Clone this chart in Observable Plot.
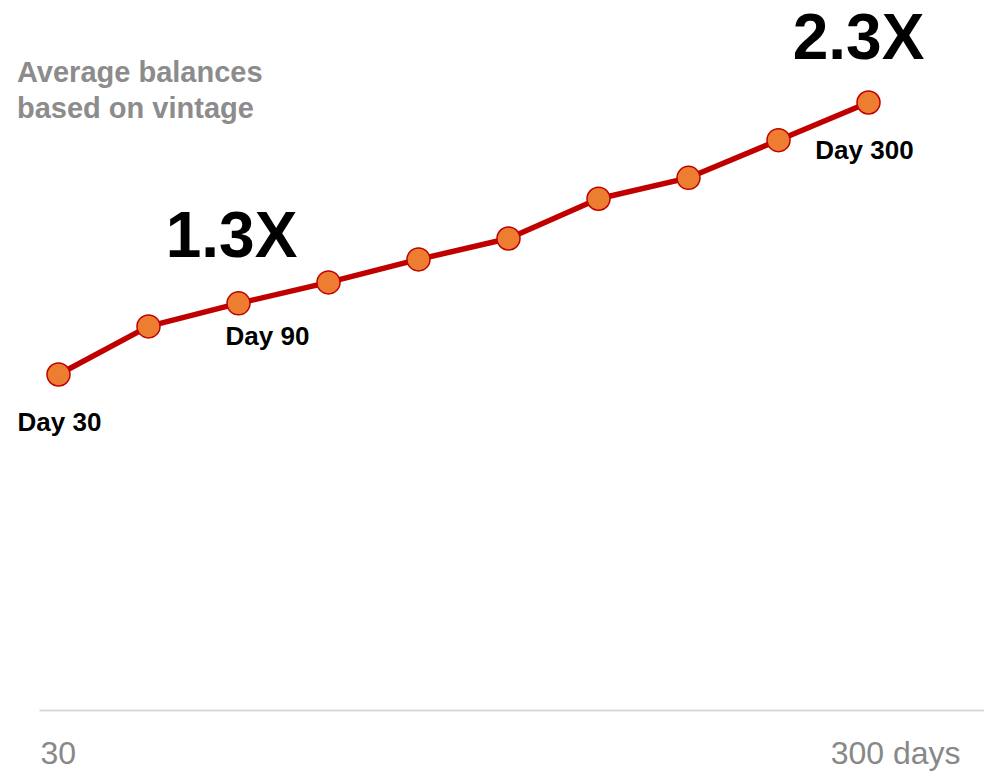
<!DOCTYPE html>
<html>
<head>
<meta charset="utf-8">
<script src="https://cdn.jsdelivr.net/npm/d3@7"></script>
<script src="https://cdn.jsdelivr.net/npm/@observablehq/plot@0.6"></script>
<style>
  html, body { margin: 0; padding: 0; background: #fff; }
  #wrap { position: relative; width: 984px; height: 771px; }
  #title { position: absolute; left: 17px; top: 54px; font-family: "Liberation Sans", Arial, sans-serif;
           font-weight: bold; font-size: 29px; line-height: 36px; color: #8c8c8c; }
  svg { display: block; }
</style>
</head>
<body>
<div id="wrap">
  <div id="title">Average balances<br>based on vintage</div>
</div>
<script>
const days = [30, 60, 90, 120, 150, 180, 210, 240, 270, 300];
const balance = [1.0, 1.23, 1.34, 1.44, 1.55, 1.65, 1.84, 1.94, 2.12, 2.30];
const dayLabels = ["Day 30", "Day 90", "Day 300"];
const dayLabelAt = [30, 90, 300];
const multiples = ["1.3X", "2.3X"];
const multipleAt = [90, 300];
const tickValues = [30, 300];
const tickLabels = ["30", "300 days"];

const data = days.map((d, i) => ({day: d, v: balance[i]}));
const valueAt = d => balance[days.indexOf(d)];
const font = "Liberation Sans, Arial, sans-serif";

const chart = Plot.plot({
  width: 984,
  height: 771,
  marginLeft: 40,
  marginRight: 0,
  marginTop: 0,
  marginBottom: 61,
  x: {domain: [30, 300], range: [58, 868], axis: null},
  y: {domain: [1, 2.3], range: [374, 102], axis: null},
  style: {fontFamily: font, background: "white"},
  marks: [
    Plot.frame({anchor: "bottom", stroke: "#d9d9d9", strokeWidth: 2}),
    Plot.text([tickValues[0]], {x: d => d, frameAnchor: "bottom", text: () => tickLabels[0], textAnchor: "start", dx: -18, dy: 53, fontSize: 32, fill: "#888"}),
    Plot.text([tickValues[1]], {x: d => d, frameAnchor: "bottom", text: () => tickLabels[1], textAnchor: "end", dx: 92, dy: 53, fontSize: 32, fill: "#888"}),
    Plot.line(data, {x: "day", y: "v", stroke: "#c00000", strokeWidth: 5.5}),
    Plot.dot(data, {x: "day", y: "v", r: 11.5, fill: "#ed7d31", stroke: "#c00000", strokeWidth: 1.5}),
    Plot.text([0], {x: () => dayLabelAt[0], y: () => valueAt(dayLabelAt[0]), text: () => dayLabels[0], dx: 1, dy: 48, fontSize: 26, fontWeight: "bold", fill: "#000"}),
    Plot.text([1], {x: () => dayLabelAt[1], y: () => valueAt(dayLabelAt[1]), text: () => dayLabels[1], dx: 29, dy: 33, fontSize: 26, fontWeight: "bold", fill: "#000"}),
    Plot.text([2], {x: () => dayLabelAt[2], y: () => valueAt(dayLabelAt[2]), text: () => dayLabels[2], dx: -4, dy: 48, fontSize: 26, fontWeight: "bold", fill: "#000"}),
    Plot.text([0], {x: () => multipleAt[0], y: () => valueAt(multipleAt[0]), text: () => multiples[0], dx: -7, dy: -67, fontSize: 64, fontWeight: "bold", fill: "#000"}),
    Plot.text([1], {x: () => multipleAt[1], y: () => valueAt(multipleAt[1]), text: () => multiples[1], dx: -10, dy: -64, fontSize: 64, fontWeight: "bold", fill: "#000"})
  ]
});
document.getElementById("wrap").prepend(chart);
</script>
</body>
</html>
